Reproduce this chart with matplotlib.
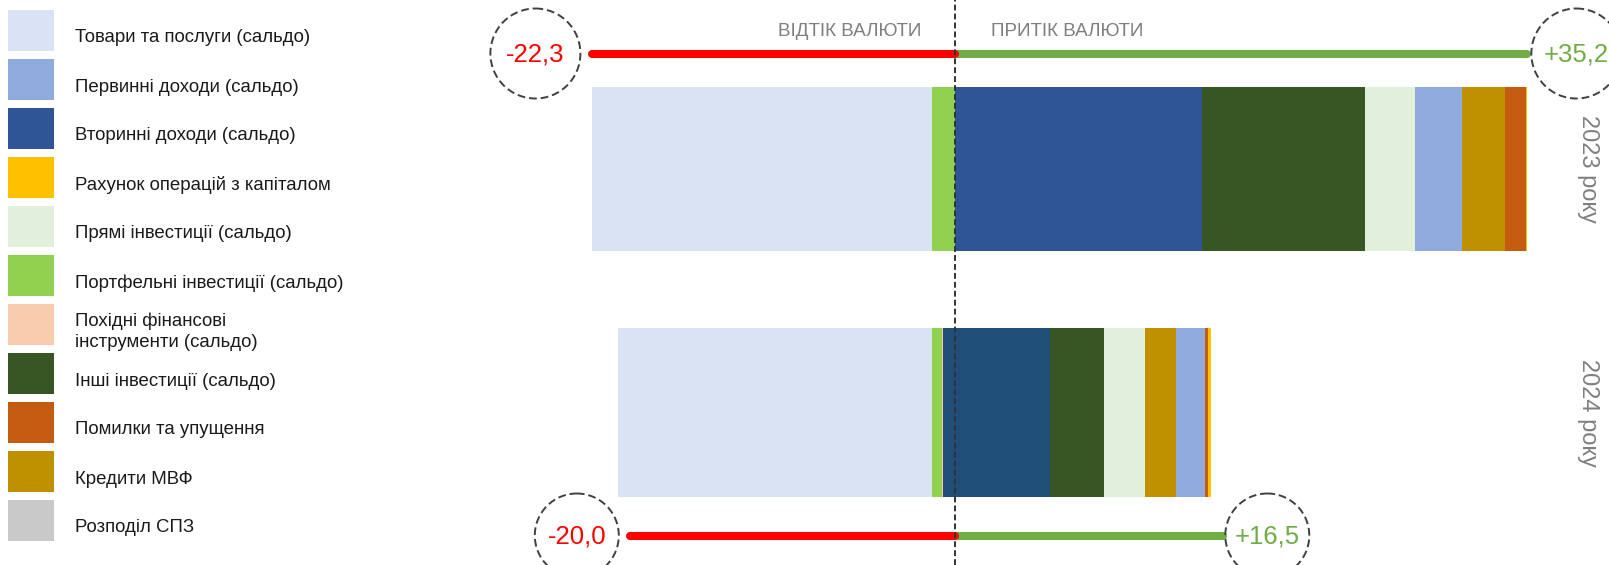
import numpy as np
import matplotlib
matplotlib.use('Agg')
import matplotlib.pyplot as plt
from matplotlib.patches import Ellipse, Rectangle

plt.rcParams['font.family'] = ['Liberation Sans', 'DejaVu Sans']

# categories in legend order
categories = ['Товари та послуги (сальдо)', 'Первинні доходи (сальдо)',
              'Вторинні доходи (сальдо)', 'Рахунок операцій з капіталом',
              'Прямі інвестиції (сальдо)', 'Портфельні інвестиції (сальдо)',
              'Похідні фінансові\nінструменти (сальдо)', 'Інші інвестиції (сальдо)',
              'Помилки та упущення', 'Кредити МВФ', 'Розподіл СПЗ']
colors = ['#DAE3F3', '#8FAADC', '#2F5597', '#FFC000', '#E2EFDA', '#92D050',
          '#F8CBAD', '#375623', '#C55A11', '#BF9000', '#C9C9C9']

years = ['2023 року', '2024 року']
values_2023 = [-20.9, 2.9, 15.2, 0.1, 3.1, -1.4, 0.0, 10.0, 1.3, 2.6, 0.0]
values_2024 = [-19.3, 1.8, 6.6, 0.2, 2.5, -0.65, -0.05, 3.3, 0.2, 1.9, 0.0]
# stacking order left to right (index into categories)
order_2023 = [0, 5, 2, 7, 4, 1, 9, 8, 3]
order_2024 = [0, 5, 6, 2, 7, 4, 9, 1, 8, 3]
outflow = [-22.3, -20.0]
inflow = [35.2, 16.5]
outflow_labels = ['-22,3', '-20,0']
inflow_labels = ['+35,2', '+16,5']

# layout (pixels)
W, H = 1609, 565
PX = 16.26          # px per unit
X0 = 955            # zero line position
bar_y = [169, 412.5]
bar_h = [164, 169]
bar_shift = [0.0, -0.73]
line_y = [53.5, 535.5]
circ_r = [45, 42]
gap_left = [12, 11]
gap_right = [4, 2]
year_color2 = {1: {2: '#1F4E79'}}  # darker secondary income in 2024

fig = plt.figure(figsize=(W / 100, H / 100), dpi=100)
ax = fig.add_axes([0, 0, 1, 1])
ax.set_xlim(-X0 / PX, (W - X0) / PX)
ax.set_ylim(H, 0)
ax.axis('off')

for k, (vals, order) in enumerate([(values_2023, order_2023), (values_2024, order_2024)]):
    left = sum(v for v in vals if v < 0) + bar_shift[k]
    for i in order:
        w = abs(vals[i])
        c = year_color2.get(k, {}).get(i, colors[i])
        ax.barh(bar_y[k], w, left=left, height=bar_h[k], color=c, lw=0, zorder=2)
        left += w
    ax.text((1588 - X0) / PX, bar_y[k], years[k], rotation=-90, ha='center', va='center',
            fontsize=17, color='#7F7F7F')

    ly = line_y[k]
    ax.plot([0, inflow[k]], [ly, ly], color='#70AD47', lw=5.8, solid_capstyle='round', zorder=3)
    ax.plot([outflow[k], 0], [ly, ly], color='#FF0000', lw=5.8, solid_capstyle='round', zorder=4)
    r = circ_r[k]
    for val, lab, col, sgn, g in [(outflow[k], outflow_labels[k], '#FF0000', -1, gap_left[k]),
                                  (inflow[k], inflow_labels[k], '#70AD47', 1, gap_right[k])]:
        cx = val + sgn * (r + g) / PX
        ax.add_patch(Ellipse((cx, ly), 2 * r / PX, 2 * r, fill=False, ec='#404040',
                             lw=1.4, ls=(0, (4, 2)), zorder=5))
        ax.text(cx, ly + 1, lab, ha='center', va='center', fontsize=18.5, color=col, zorder=6)

ax.axvline(0, color='#333333', lw=1.4, ls=(0, (3, 1.6)), zorder=7)
ax.text(-34 / PX, 32, 'ВІДТІК ВАЛЮТИ', ha='right', va='center', fontsize=13.6, color='#7F7F7F')
ax.text(36 / PX, 32, 'ПРИТІК ВАЛЮТИ', ha='left', va='center', fontsize=13.6, color='#7F7F7F')

# legend, drawn in pixel coords
lax = fig.add_axes([0, 0, 1, 1])
lax.set_xlim(0, W)
lax.set_ylim(H, 0)
lax.axis('off')
lax.patch.set_alpha(0)
for i, (lab, c) in enumerate(zip(categories, colors)):
    top = 10 + 49 * i
    lax.add_patch(Rectangle((8, top), 46, 41, color=c, lw=0))
    lax.text(75, top + 28, lab, ha='left', va='center', fontsize=13.4, color='#1A1A1A',
             linespacing=1.3)

fig.savefig('out.png', dpi=100)
